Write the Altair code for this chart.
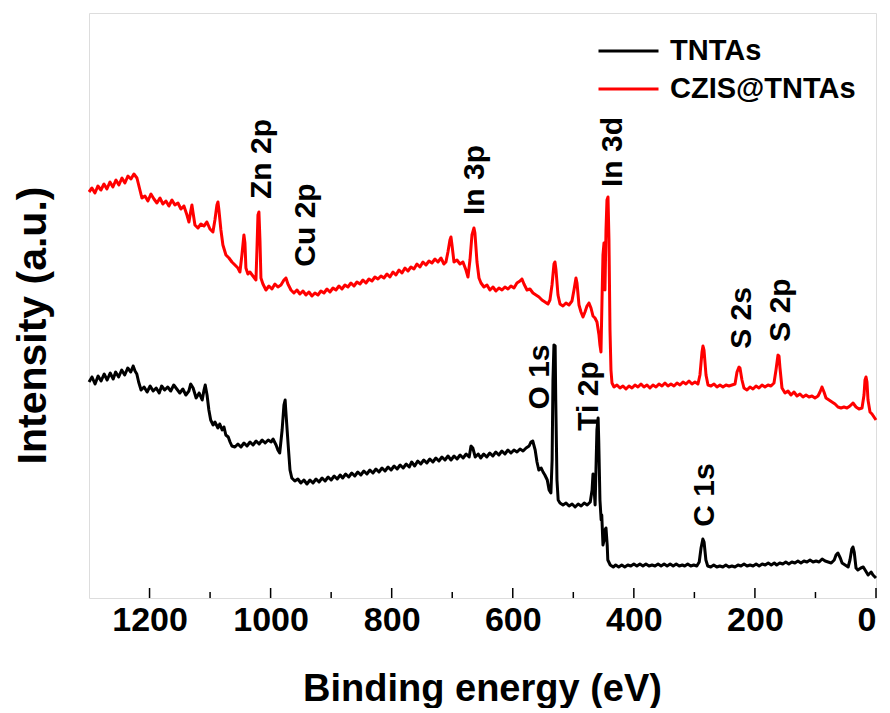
import altair as alt
import pandas as pd

SERIES = ["TNTAs", "CZIS@TNTAs"]
COLORS = ["#000000", "#ff0000"]

# (binding energy eV, intensity a.u.)
CZIS = [
    (1300.0, 406), (1295.2, 410), (1290.2, 405), (1285.3, 412), (1280.3, 408), (1275.3, 414),
    (1270.4, 409), (1265.4, 416), (1260.5, 411), (1255.5, 418), (1250.6, 413), (1245.6, 420),
    (1240.7, 415), (1235.7, 422), (1230.7, 419), (1225.8, 424), (1220.8, 420), (1215.9, 408),
    (1212.6, 400), (1207.6, 402), (1202.7, 397), (1197.7, 404), (1192.7, 399), (1187.8, 395),
    (1182.8, 400), (1177.9, 394), (1172.9, 397), (1168.0, 392), (1163.0, 398), (1158.1, 393),
    (1153.1, 395), (1148.1, 389), (1143.2, 392), (1138.2, 383), (1134.9, 376), (1131.6, 388),
    (1130.0, 393), (1128.3, 386), (1125.0, 373), (1120.1, 370), (1115.1, 374), (1110.1, 372),
    (1105.2, 376), (1100.2, 369), (1095.3, 366), (1092.0, 378), (1088.7, 393), (1087.0, 396),
    (1085.4, 388), (1082.1, 368), (1078.8, 353), (1073.8, 343), (1068.8, 340), (1063.9, 336),
    (1058.9, 333), (1054.0, 330), (1050.7, 326), (1047.4, 343), (1044.1, 363), (1042.4, 355),
    (1040.8, 330), (1037.5, 324), (1034.2, 326), (1029.2, 322), (1024.2, 318), (1022.6, 348),
    (1020.9, 383), (1019.3, 386), (1017.6, 358), (1016.0, 320), (1012.7, 314), (1007.7, 308),
    (1002.8, 312), (997.8, 309), (992.9, 314), (987.9, 311), (982.9, 313), (978.0, 318),
    (974.7, 320), (971.4, 314), (966.4, 308), (961.5, 305), (956.5, 308), (951.6, 304),
    (946.6, 307), (941.6, 303), (936.7, 306), (931.7, 302), (926.8, 305), (921.8, 303),
    (916.9, 307), (911.9, 305), (906.9, 309), (902.0, 306), (897.0, 310), (892.1, 308),
    (887.1, 312), (882.2, 309), (877.2, 313), (872.3, 311), (867.3, 315), (862.3, 312),
    (857.4, 316), (852.4, 314), (847.5, 318), (842.5, 315), (837.6, 319), (832.6, 317),
    (827.7, 321), (822.7, 319), (817.7, 322), (812.8, 320), (807.8, 324), (802.9, 321),
    (797.9, 326), (793.0, 323), (788.0, 328), (783.0, 325), (778.1, 330), (773.1, 327),
    (768.2, 331), (763.2, 329), (758.3, 334), (753.3, 331), (748.4, 336), (743.4, 333),
    (738.4, 337), (733.5, 335), (728.5, 339), (723.6, 336), (718.6, 340), (713.7, 334),
    (710.4, 336), (707.1, 346), (703.8, 358), (702.1, 361), (700.4, 353), (697.1, 336),
    (692.2, 338), (687.2, 334), (682.3, 336), (677.3, 328), (674.0, 321), (670.7, 338),
    (667.4, 363), (664.1, 370), (662.5, 365), (659.1, 336), (655.8, 320), (652.5, 315),
    (647.6, 311), (642.6, 313), (637.7, 308), (632.7, 311), (627.8, 307), (622.8, 310),
    (617.8, 308), (612.9, 311), (607.9, 309), (603.0, 312), (598.0, 310), (593.1, 315),
    (588.1, 317), (584.8, 319), (581.5, 314), (576.5, 308), (571.6, 309), (566.6, 305),
    (561.7, 303), (556.7, 301), (551.8, 298), (546.8, 296), (541.9, 294), (538.6, 298),
    (535.2, 313), (531.9, 334), (530.3, 336), (528.6, 328), (525.3, 303), (522.0, 294),
    (517.1, 292), (512.1, 295), (507.2, 293), (502.2, 297), (498.9, 308), (495.6, 320),
    (493.9, 315), (490.6, 293), (487.3, 286), (484.0, 281), (480.7, 286), (477.4, 292),
    (474.1, 295), (470.8, 290), (467.5, 282), (464.2, 280), (460.9, 276), (457.6, 263),
    (456.0, 253), (454.3, 246), (452.6, 298), (451.0, 343), (449.3, 355), (447.7, 308),
    (446.0, 368), (444.4, 398), (442.7, 401), (441.1, 358), (439.4, 268), (437.8, 228),
    (436.1, 215), (432.8, 211), (427.9, 213), (422.9, 210), (418.0, 212), (413.0, 209),
    (408.0, 212), (403.1, 210), (398.1, 213), (393.2, 211), (388.2, 214), (383.3, 211),
    (378.3, 213), (373.4, 210), (368.4, 213), (363.4, 211), (358.5, 214), (353.5, 212),
    (348.6, 215), (343.6, 212), (338.7, 214), (333.7, 212), (328.7, 215), (323.8, 213),
    (318.8, 216), (313.9, 214), (308.9, 217), (304.0, 214), (299.0, 216), (294.1, 214),
    (290.8, 223), (287.4, 246), (285.8, 252), (284.1, 248), (280.8, 223), (277.5, 213),
    (272.6, 212), (267.6, 214), (262.7, 211), (257.7, 213), (252.8, 211), (247.8, 213),
    (242.8, 212), (237.9, 213), (232.9, 214), (229.6, 226), (226.3, 231), (224.7, 230),
    (221.4, 218), (218.1, 210), (213.1, 208), (208.2, 211), (203.2, 209), (198.2, 212),
    (193.3, 210), (188.3, 213), (183.4, 211), (178.4, 213), (173.5, 212), (168.5, 215),
    (165.2, 228), (161.9, 243), (160.2, 242), (158.6, 230), (155.3, 210), (150.3, 205),
    (145.4, 207), (140.4, 203), (135.5, 206), (130.5, 202), (125.6, 204), (120.6, 201),
    (115.6, 203), (110.7, 201), (105.7, 202), (100.8, 200), (95.8, 202), (92.5, 206),
    (89.2, 211), (85.9, 206), (82.6, 200), (77.6, 198), (72.7, 196), (67.7, 194),
    (62.8, 191), (57.8, 190), (52.9, 191), (47.9, 190), (43.0, 192), (38.0, 195),
    (33.0, 191), (28.1, 189), (23.1, 190), (19.8, 203), (18.2, 218), (16.5, 221),
    (14.9, 216), (13.2, 198), (9.9, 186), (6.6, 184), (3.3, 181), (0.0, 178),
]

TNTA = [
    (1300, 216), (1295, 221), (1290, 214), (1285, 222), (1280, 217), (1275, 224), (1270, 218),
    (1265, 225), (1260, 219), (1256, 226), (1251, 221), (1246, 228), (1241, 223), (1236, 230),
    (1231, 226), (1227, 232), (1224, 227), (1221, 224), (1218, 216), (1214, 208), (1209, 211),
    (1204, 206), (1199, 212), (1194, 207), (1189, 210), (1184, 205), (1180, 212), (1175, 208),
    (1170, 211), (1165, 207), (1160, 213), (1155, 209), (1150, 205), (1145, 209), (1140, 203),
    (1135, 207), (1132, 214), (1128, 210), (1123, 200), (1118, 205), (1113, 198), (1110, 208),
    (1108, 213), (1105, 203), (1102, 188), (1099, 178), (1095, 173), (1092, 176), (1087, 170),
    (1084, 174), (1080, 168), (1077, 171), (1074, 163), (1070, 161), (1067, 156), (1064, 152),
    (1059, 151), (1054, 154), (1049, 151), (1044, 155), (1039, 152), (1034, 156), (1029, 153),
    (1024, 157), (1019, 154), (1014, 158), (1009, 155), (1004, 158), (999, 156), (996, 159),
    (991, 153), (988, 148), (985, 145), (981, 168), (978, 193), (976, 198), (975, 188),
    (971, 153), (968, 128), (965, 120), (960, 117), (955, 119), (950, 115), (945, 118),
    (940, 114), (935, 118), (930, 115), (925, 119), (920, 116), (915, 120), (910, 117),
    (905, 121), (900, 118), (895, 122), (890, 119), (885, 123), (881, 120), (876, 124),
    (871, 121), (866, 125), (861, 122), (856, 126), (851, 123), (846, 127), (841, 124),
    (836, 128), (831, 125), (826, 129), (821, 126), (816, 130), (811, 127), (806, 131),
    (801, 128), (796, 132), (791, 129), (786, 133), (781, 130), (776, 134), (771, 131),
    (767, 136), (762, 132), (757, 137), (752, 134), (747, 138), (742, 135), (737, 139),
    (732, 136), (727, 140), (722, 137), (717, 141), (712, 138), (707, 142), (702, 138),
    (697, 142), (692, 139), (687, 143), (682, 140), (677, 144), (672, 141), (669, 152),
    (666, 150), (662, 141), (657, 144), (653, 140), (648, 144), (643, 141), (638, 145),
    (633, 142), (628, 146), (623, 143), (618, 147), (613, 144), (608, 148), (603, 145),
    (598, 148), (593, 146), (588, 149), (583, 147), (578, 150), (573, 152), (570, 156),
    (567, 157), (563, 148), (560, 136), (557, 128), (553, 130), (550, 126), (547, 123),
    (543, 118), (540, 108), (537, 105), (535, 138), (533.6, 218), (532, 253), (530, 252),
    (529, 198), (527, 118), (525, 98), (522, 95), (517, 93), (512, 95), (507, 92),
    (502, 94), (497, 91), (492, 94), (487, 92), (482, 95), (477, 93), (472, 96),
    (469, 108), (467.5, 124), (466, 113), (464, 93), (462.6, 128), (461, 168), (459, 180),
    (458, 158), (456, 98), (454, 78), (453, 83), (451, 53), (449, 58), (448, 68),
    (446, 70), (444, 53), (443, 38), (439, 33), (434, 31), (430, 33), (425, 31),
    (420, 33), (415, 31), (410, 33), (405, 32), (400, 34), (395, 32), (390, 34),
    (385, 32), (380, 34), (375, 32), (370, 33), (365, 32), (360, 34), (355, 32),
    (350, 34), (345, 32), (340, 34), (335, 32), (330, 34), (325, 32), (320, 33),
    (316, 32), (311, 34), (306, 32), (301, 33), (296, 32), (292, 36), (289, 50),
    (286, 59), (284, 56), (281, 38), (278, 32), (273, 31), (268, 33), (263, 31),
    (258, 32), (253, 31), (248, 33), (243, 31), (238, 32), (233, 31), (228, 33),
    (223, 32), (218, 34), (213, 32), (208, 33), (203, 32), (198, 34), (193, 32),
    (188, 34), (183, 33), (178, 35), (173, 33), (168, 35), (164, 33), (159, 35),
    (154, 34), (149, 36), (144, 34), (139, 36), (134, 35), (129, 37), (124, 35),
    (119, 37), (114, 36), (109, 38), (104, 36), (99, 37), (94, 36), (89, 39),
    (84, 37), (79, 36), (74, 35), (69, 38), (66, 43), (63, 45), (59, 40),
    (56, 35), (51, 33), (46, 31), (43, 38), (40, 49), (38, 51), (36, 46),
    (33, 30), (30, 28), (25, 30), (21, 31), (18, 28), (13, 23), (8, 26),
    (5, 23), (0, 20),
]

PEAK_LABELS = ["Zn 2p", "Cu 2p", "In 3p", "In 3d", "S 2s", "S 2p", "O 1s", "Ti 2p", "C 1s"]
PEAK_EV = [1014, 942, 662, 434, 221, 157, 555, 474, 282]
PEAK_Y = [439, 373, 418, 446, 280, 288, 221, 202, 103]

X_TICKS = [0, 200, 400, 600, 800, 1000, 1200]
X_MINOR = [100, 300, 500, 700, 900, 1100]

rows = [{"ev": e, "intensity": v, "sample": "TNTAs"} for e, v in TNTA]
rows += [{"ev": e, "intensity": v, "sample": "CZIS@TNTAs"} for e, v in CZIS]
df = pd.DataFrame(rows)
labels_df = pd.DataFrame({"label": PEAK_LABELS, "ev": PEAK_EV, "y": PEAK_Y})
major_df = pd.DataFrame({"ev": X_TICKS})
minor_df = pd.DataFrame({"ev": X_MINOR})

W, H = 787, 585
SANS = "Liberation Sans, Arial, sans-serif"

xscale = alt.Scale(domain=[0, 1300], reverse=True, nice=False, zero=False)
yscale = alt.Scale(domain=[0, 585], nice=False, zero=False)

lines = alt.Chart(df).mark_line(strokeWidth=3, strokeJoin="round").encode(
    x=alt.X("ev:Q", scale=xscale,
            axis=alt.Axis(values=X_TICKS, format="d", ticks=False, domain=False, grid=False,
                          labelFont=SANS, labelFontSize=34, labelFontWeight="bold",
                          labelColor="black", labelPadding=5,
                          title="Binding energy (eV)", titleFont=SANS, titleFontSize=38,
                          titleFontWeight="bold", titleColor="black",
                          titleX=393, titleY=102, titleAlign="center",
                          titleBaseline="alphabetic")),
    y=alt.Y("intensity:Q", scale=yscale,
            axis=alt.Axis(labels=False, ticks=False, domain=False, grid=False,
                          title="Intensity (a.u.)", titleFont=SANS, titleFontSize=41,
                          titleFontWeight="bold", titleColor="black", titleAngle=270,
                          titleX=-44, titleY=312, titleAlign="center",
                          titleBaseline="alphabetic")),
    color=alt.Color("sample:N", scale=alt.Scale(domain=SERIES, range=COLORS),
                    sort=SERIES,
                    legend=alt.Legend(title=None, orient="none", legendX=508, legendY=23,
                                      symbolType="stroke", symbolSize=3600,
                                      symbolStrokeWidth=3, clipHeight=30, rowPadding=8,
                                      labelFont=SANS, labelFontSize=29,
                                      labelFontWeight="bold", labelColor="black",
                                      labelOffset=10, labelLimit=400, padding=0)),
    order=alt.Order("ev:Q"),
)

major = alt.Chart(major_df).mark_rule(color="black", strokeWidth=1.5).encode(
    x=alt.X("ev:Q", scale=xscale), y=alt.value(H), y2=alt.value(H - 10))
minor = alt.Chart(minor_df).mark_rule(color="black", strokeWidth=1.5).encode(
    x=alt.X("ev:Q", scale=xscale), y=alt.value(H), y2=alt.value(H - 6))

texts = alt.Chart(labels_df).mark_text(
    angle=270, align="center", baseline="middle", font=SANS, fontSize=30,
    fontWeight="bold", color="black").encode(
    x=alt.X("ev:Q", scale=xscale), y=alt.Y("y:Q", scale=yscale), text="label:N")

chart = alt.layer(lines, major, minor, texts).properties(
    width=W, height=H,
    autosize=alt.AutoSizeParams(type="none"),
    padding={"left": 81, "top": 5, "right": 6, "bottom": 110},
).configure_view(stroke="black", strokeWidth=1.5).configure(background="white")

chart.save("out.html", embed_options={"renderer": "svg", "actions": False})
